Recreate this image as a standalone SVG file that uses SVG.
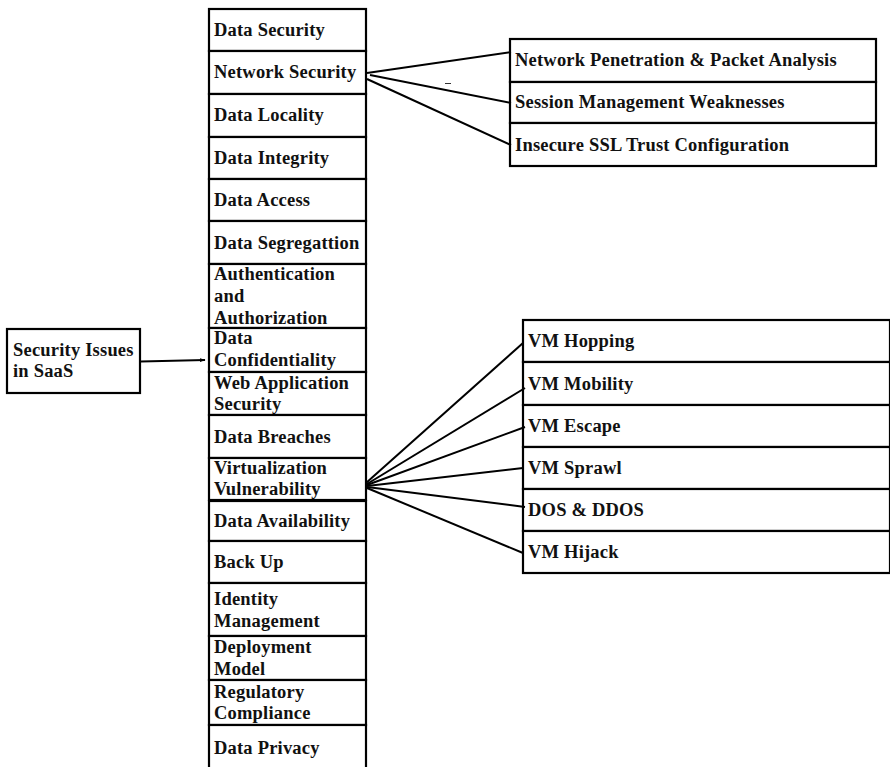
<svg xmlns="http://www.w3.org/2000/svg" width="890" height="767" viewBox="0 0 890 767">
  <style>
    rect.box { fill: #ffffff; stroke: #000000; stroke-width: 2.2; }
    text { font-family: "Liberation Serif", "Times New Roman", serif; font-weight: bold; font-size: 18.5px; letter-spacing: 0.2px; fill: #111111; }
    .link { fill: none; stroke: #000000; stroke-width: 2; }
  </style>
  <defs>
    <marker id="arrow" viewBox="0 0 10 10" refX="9" refY="5" markerWidth="6" markerHeight="6" orient="auto" markerUnits="userSpaceOnUse">
      <path d="M0,1.5 L10,5 L0,8.5 Z" fill="#000000"/>
    </marker>
  </defs>
  <rect width="890" height="767" fill="#ffffff"/>

  <!-- root -->
  <g id="security-issues-saas">
    <rect class="box" x="7" y="329" width="133" height="64"/>
    <text x="13" y="356">Security Issues</text>
    <text x="13" y="377">in SaaS</text>
  </g>

  <!-- issue column -->
  <g id="data-security">
    <rect class="box" x="209" y="9" width="157" height="42"/>
    <text x="214" y="36">Data Security</text>
  </g>
  <g id="network-security">
    <rect class="box" x="209" y="51" width="157" height="43"/>
    <text x="214" y="78">Network Security</text>
  </g>
  <g id="data-locality">
    <rect class="box" x="209" y="94" width="157" height="43"/>
    <text x="214" y="121">Data Locality</text>
  </g>
  <g id="data-integrity">
    <rect class="box" x="209" y="137" width="157" height="42"/>
    <text x="214" y="164">Data Integrity</text>
  </g>
  <g id="data-access">
    <rect class="box" x="209" y="179" width="157" height="42"/>
    <text x="214" y="206">Data Access</text>
  </g>
  <g id="data-segregation">
    <rect class="box" x="209" y="221" width="157" height="43"/>
    <text x="214" y="249">Data Segregattion</text>
  </g>
  <g id="authentication-authorization">
    <rect class="box" x="209" y="264" width="157" height="64"/>
    <text x="214" y="280">Authentication</text>
    <text x="214" y="302">and</text>
    <text x="214" y="324">Authorization</text>
  </g>
  <g id="data-confidentiality">
    <rect class="box" x="209" y="328" width="157" height="44"/>
    <text x="214" y="344">Data</text>
    <text x="214" y="366">Confidentiality</text>
  </g>
  <g id="web-application-security">
    <rect class="box" x="209" y="372" width="157" height="43"/>
    <text x="214" y="389">Web Application</text>
    <text x="214" y="410">Security</text>
  </g>
  <g id="data-breaches">
    <rect class="box" x="209" y="415" width="157" height="43"/>
    <text x="214" y="443">Data Breaches</text>
  </g>
  <g id="virtualization-vulnerability">
    <rect class="box" x="209" y="458" width="157" height="42"/>
    <text x="214" y="474">Virtualization</text>
    <text x="214" y="495">Vulnerability</text>
  </g>
  <g id="data-availability">
    <rect class="box" x="209" y="501" width="157" height="40"/>
    <text x="214" y="527">Data Availability</text>
  </g>
  <g id="back-up">
    <rect class="box" x="209" y="541" width="157" height="42"/>
    <text x="214" y="568">Back Up</text>
  </g>
  <g id="identity-management">
    <rect class="box" x="209" y="583" width="157" height="53"/>
    <text x="214" y="605">Identity</text>
    <text x="214" y="627">Management</text>
  </g>
  <g id="deployment-model">
    <rect class="box" x="209" y="636" width="157" height="44"/>
    <text x="214" y="653">Deployment</text>
    <text x="214" y="675">Model</text>
  </g>
  <g id="regulatory-compliance">
    <rect class="box" x="209" y="680" width="157" height="45"/>
    <text x="214" y="698">Regulatory</text>
    <text x="214" y="719">Compliance</text>
  </g>
  <g id="data-privacy">
    <rect class="box" x="209" y="725" width="157" height="46"/>
    <text x="214" y="754">Data Privacy</text>
  </g>

  <!-- network security threats -->
  <g id="network-penetration">
    <rect class="box" x="510" y="39" width="366" height="43"/>
    <text x="515" y="66">Network Penetration &amp; Packet Analysis</text>
  </g>
  <g id="session-management">
    <rect class="box" x="510" y="82" width="366" height="41"/>
    <text x="515" y="108">Session Management Weaknesses</text>
  </g>
  <g id="insecure-ssl">
    <rect class="box" x="510" y="123" width="366" height="43"/>
    <text x="515" y="151">Insecure SSL Trust Configuration</text>
  </g>

  <!-- virtualization threats -->
  <g id="vm-hopping">
    <rect class="box" x="523" y="320" width="367" height="42"/>
    <text x="528" y="347">VM Hopping</text>
  </g>
  <g id="vm-mobility">
    <rect class="box" x="523" y="362" width="367" height="43"/>
    <text x="528" y="390">VM Mobility</text>
  </g>
  <g id="vm-escape">
    <rect class="box" x="523" y="405" width="367" height="42"/>
    <text x="528" y="432">VM Escape</text>
  </g>
  <g id="vm-sprawl">
    <rect class="box" x="523" y="447" width="367" height="42"/>
    <text x="528" y="474">VM Sprawl</text>
  </g>
  <g id="dos-ddos">
    <rect class="box" x="523" y="489" width="367" height="42"/>
    <text x="528" y="516">DOS &amp; DDOS</text>
  </g>
  <g id="vm-hijack">
    <rect class="box" x="523" y="531" width="367" height="42"/>
    <text x="528" y="558">VM Hijack</text>
  </g>

  <!-- connectors -->
  <g id="connectors">
    <path class="link" d="M141,361.5 L205,360" marker-end="url(#arrow)"/>

    <path class="link" d="M367,73 L511,52"/>
    <path class="link" d="M370,75 L511,103"/>
    <path class="link" d="M367,79 L511,145"/>
    <path d="M445,83.5 L451,83.5" stroke="#333333" stroke-width="1"/>

    <path class="link" d="M366,483 L523,343"/>
    <path class="link" d="M367,484 L525,388"/>
    <path class="link" d="M367,485 L525,427"/>
    <path class="link" d="M367,486 L523,468"/>
    <path class="link" d="M367,487 L525,507"/>
    <path class="link" d="M367,488 L523,553"/>
  </g>
</svg>
